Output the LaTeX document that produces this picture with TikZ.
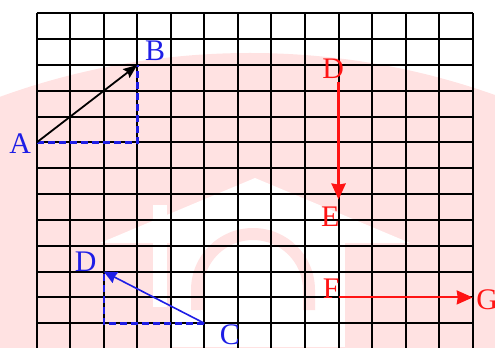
\documentclass[tikz,border=0pt]{standalone}
\usepackage{fontspec}
\setmainfont{Liberation Serif}
\usetikzlibrary{arrows.meta}

\definecolor{ptblue}{RGB}{30,30,230}
\definecolor{ptred}{RGB}{255,20,20}
\definecolor{wmpink}{RGB}{255,226,226}

\begin{document}
\begin{tikzpicture}[x=33.54bp,y=25.83bp,
        every node/.style={font=\fontsize{30}{30}\selectfont,inner sep=0pt},
        lblue/.style={text=ptblue},
        lred/.style={text=ptred},
        gridline/.style={line width=2bp,black},
        dashline/.style={ptblue,line width=2.5bp,dash pattern=on 7bp off 4bp},
        vec/.style={-{Stealth[length=14bp,width=11bp,inset=2bp]},line width=1.8bp},
        bluevec/.style={-{Stealth[length=13bp,width=12bp,inset=1bp]},ptblue,line width=1.6bp},
        redvec/.style={-{Stealth[length=16bp,width=14bp,inset=1bp]},ptred}]

  \useasboundingbox (-1.094,0.515) rectangle (13.664,-12.919);
  \clip (-1.094,0.515) rectangle (13.664,-12.919);

  % watermark
  \begin{scope}[shift={(-36.7bp,13.3bp)},x=1bp,y=-1bp]
    \fill[wmpink] (250,785) circle[radius=732bp];
    \fill[white] (100,243) -- (255,178) -- (410,243) -- cycle;
    \fill[white] (172,243) rectangle (345,347);
    \fill[white] (153,205) rectangle (167,307);
    \fill[wmpink] (191,310) -- (191,290) arc[start angle=180,end angle=0,radius=62bp]
      -- (315,310) -- (303,310) -- (303,290) arc[start angle=0,end angle=180,radius=50bp]
      -- (203,310) -- cycle;
  \end{scope}

  \draw[gridline,xstep=1,ystep=1] (0,-13) grid (13,0);

  \coordinate (A) at (0,-5);
  \coordinate (B) at (3,-2);
  \coordinate (C) at (5,-12);
  \coordinate (D) at (2,-10);
  \coordinate (Dr) at (9,-2);
  \coordinate (E) at (9,-7);
  \coordinate (F) at (9,-11);
  \coordinate (G) at (13,-11);

  \node[lblue] (labA) at (-0.49,-5.05) {A};
  \node[lblue] (labB) at (3.53,-1.45) {B};
  \node[lblue] (labC) at (5.76,-12.45) {C};
  \node[lblue] (labD) at (1.46,-9.62) {D};
  \node[lred] (labDr) at (8.84,-2.16) {D};
  \node[lred] (labE) at (8.75,-7.87) {E};
  \node[lred] (labF) at (8.78,-10.68) {F};
  \node[lred] (labG) at (13.43,-11.1) {G};

  \draw[dashline] (A) -| (B);
  \draw[dashline] (C) -| (D);
  \draw[vec] (A) -- (B);
  \draw[bluevec] (C) -- (D);
  \draw[redvec,line width=3bp,shorten <=3bp,shorten >=7bp] (labDr.south -| Dr) -- (labE.north -| E);
  \draw[redvec,line width=2bp] (F) -- (G);

\end{tikzpicture}
\end{document}
